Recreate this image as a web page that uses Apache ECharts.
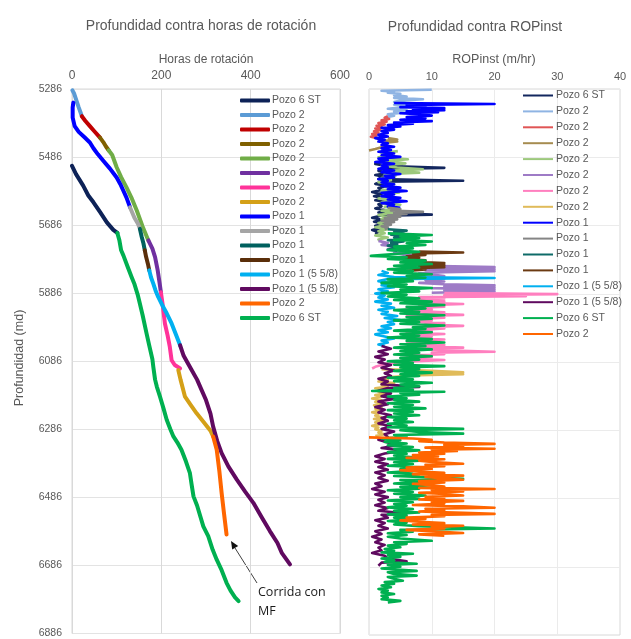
<!DOCTYPE html>
<html><head><meta charset="utf-8">
<script src="https://cdn.jsdelivr.net/npm/echarts@6/dist/echarts.min.js"></script>
<style>html,body{margin:0;padding:0;background:#fff}#c{width:631px;height:639px}</style>
</head><body><div id="c"></div><script>
// ---------- axis ticks ----------
const depthMin = 5286, depthMax = 6886, depthStep = 200;
const hoursTicks = [0, 200, 400, 600];
const ropTicks = [0, 10, 20, 30, 40];

// ---------- left chart: [horas, profundidad] ----------
const hrP6stNavy = [[0,5512],[9,5536],[25,5570],[36.5,5599],[48,5619],[63,5648],[78,5678],[92.5,5700],[101.5,5709]];
const hrP2LightBlue = [[1,5290],[5,5300],[10,5320],[15,5340],[20,5358],[22,5366]];
const hrP2Red = [[22,5366],[30,5380],[40,5395],[50,5410],[62.7,5429]];
const hrP2Olive = [[62.7,5429],[70,5442],[76,5455],[82,5466]];
const hrP2Green = [[82,5466],[90,5480],[100,5516],[110,5545],[122,5575],[133,5605],[145,5643],[158,5690],[171,5731]];
const hrP2Purple = [[171,5731],[180,5755],[186,5780],[192,5820],[196,5855],[199,5883]];
const hrP2Pink = [[199,5883],[203,5920],[208,5975],[214,6010],[219,6044],[223,6083],[230,6097],[242,6107]];
const hrP2Gold = [[238,6112],[243,6140],[253,6190],[266,6215],[279,6239],[295,6265],[310,6290],[316,6307]];
const hrP1Blue = [[3,5326],[1.5,5340],[1.5,5370],[6,5395],[15,5412],[28,5428],[40,5443],[48,5460],[58,5478],[70,5497],[85,5520],[100,5546],[108,5565],[115,5585],[122,5605],[130,5634]];
const hrP1Grey = [[130,5634],[140,5665],[147,5680],[152,5697]];
const hrP1Teal = [[152,5697],[156,5720],[160,5740],[163,5760]];
const hrP1Brown = [[163,5760],[166,5780],[170,5800],[173,5819]];
const hrP1LightBlue = [[173,5819],[177,5840],[182,5858],[187,5878],[193,5897],[204,5926],[212,5945],[223,5975],[232,6005],[242,6039]];
const hrP1DarkPurple = [[242,6039],[250,6070],[265,6105],[280,6140],[290,6170],[300,6200],[310,6240],[316,6278],[325,6320],[335,6356],[350,6395],[369,6434],[388,6470],[406,6502],[425,6545],[443,6585],[460,6620],[470,6650],[480,6668],[488,6683]];
const hrP2Orange = [[316,6307],[324,6346],[330,6410],[335,6473],[340,6530],[346,6595]];
const hrP6stGreen = [[101.5,5709],[106,5730],[110,5760],[115,5775],[125,5810],[133.6,5839],[140,5860],[147,5890],[152,5917],[158,5950],[167,6005],[173,6040],[180,6080],[182,6102],[186,6140],[190,6161],[197,6190],[205,6225],[212,6258],[220,6285],[227,6307],[236,6325],[245,6346],[255,6380],[264,6415],[268,6450],[272,6483],[280,6510],[294,6571],[305,6600],[315,6640],[324,6669],[335,6700],[346,6737],[355,6760],[365,6780],[373,6791]];

// ---------- right chart: [ROPinst, profundidad] ----------
const ropP6stNavy = [[2,5500],[1,5506],[3,5512],[12,5517],[2,5520],[1.5,5526],[3,5532],[1,5538],[2.5,5544],[1.5,5550],[15,5555],[2,5558],[1,5564],[3,5570],[1.5,5576],[2,5582],[0.5,5588],[2,5594],[0.8,5600],[2.5,5606],[1,5612],[3,5618],[1.5,5624],[2,5630],[1,5636],[3,5642],[1.5,5648],[10,5654],[2,5657],[0.5,5663],[2,5669],[0.8,5675],[2.5,5681],[1,5687],[2,5693],[0.5,5699],[1.5,5705],[1,5711]];
const ropP2LightBlue = [[10,5288],[2,5291],[4,5294],[3,5297],[5,5300],[4,5304],[6,5308],[4,5312],[8.6,5316],[5,5320],[4,5324],[6,5328],[4,5332],[7,5336],[5,5340],[3,5344],[6,5348],[4,5352],[5,5356],[3,5360],[4,5364],[3,5368]];
const ropP2Red = [[3,5366],[2.5,5370],[3.2,5374],[2,5378],[2.8,5382],[1.5,5386],[2.5,5390],[1.2,5394],[2,5398],[1,5402],[1.8,5406],[0.8,5410],[1.5,5414],[0.5,5418],[1.2,5422],[0.3,5426],[1,5429]];
const ropP2Olive = [[3,5430],[4.5,5434],[2.5,5437],[4.5,5440],[3,5443],[2.5,5447],[3,5452],[2,5457],[1,5462],[0,5466]];
const ropP2Green = [[4.6,5468],[2,5474],[3.5,5480],[1.5,5486],[6.2,5492],[2.5,5498],[5.8,5504],[2,5510],[4.5,5516],[8.6,5521],[3,5526],[8,5531],[2.5,5536],[4.2,5541],[2,5547],[3.5,5553],[1.5,5559],[4,5565],[2.5,5571],[5,5577],[2,5583],[4.8,5589],[2.5,5595],[3.5,5601],[1.5,5607],[4,5613],[2,5619],[5,5625],[2.5,5631],[4.5,5637],[2,5643],[4,5649],[1.5,5655],[3,5661],[2,5667],[3.5,5673],[1.5,5679],[2.5,5685],[1,5691],[3,5697],[1.5,5703],[2.5,5709],[1,5715],[3,5721],[1.5,5727],[2,5731]];
const ropP2Purple = [[1.5,5731],[3,5737],[2,5743],[5,5749],[3,5755],[6,5761],[4,5767],[7,5773],[5,5779],[8,5785],[6,5791],[9,5797],[7,5803],[20,5808],[10,5811],[20,5814],[9,5817],[20,5820],[12,5823],[8,5826],[10,5830],[12,5834],[8,5838],[12,5842],[9,5846],[12,5850],[8,5854],[12,5858],[20,5861],[12,5864],[20,5867],[10,5870],[20,5873],[12,5876],[20,5879],[10,5883]];
const ropP2Pink = [[12,5884],[30,5887],[12,5890],[25,5893],[8,5896],[12,5900],[6,5904],[12,5908],[7,5912],[15,5916],[8,5920],[12,5924],[6,5928],[10,5932],[7,5936],[12,5940],[8,5944],[15,5948],[6,5952],[12,5956],[8,5960],[10,5964],[6,5968],[12,5972],[9,5976],[15,5980],[7,5984],[12,5988],[8,5992],[10,5996],[6,6000],[12,6004],[7,6008],[10,6012],[6,6016],[12,6020],[8,6024],[10,6028],[6,6032],[12,6036],[8,6040],[15,6044],[7,6048],[12,6052],[20,6056],[10,6059],[12,6063],[6,6067],[10,6071],[5,6075],[12,6080],[6,6085],[3,6090],[2,6095],[1,6100],[0.5,6105]];
const ropP2Gold = [[2,6107],[10,6112],[15,6116],[10,6119],[15,6122],[8,6125],[4,6129],[2,6133],[3,6138],[1.5,6143],[4,6148],[2,6153],[3,6158],[1,6163],[2.5,6168],[1.5,6173],[3,6178],[1,6183],[2,6188],[0.5,6193],[2,6198],[1,6203],[2.5,6208],[0.8,6213],[2,6218],[1,6223],[1.8,6228],[0.5,6233],[1.5,6238],[1,6243],[2,6248],[0.8,6253],[2.5,6258],[1,6263],[2,6268],[0.5,6273],[1.5,6278],[1,6283],[2,6288],[1.5,6293],[2.5,6298],[1,6303]];
const ropP1Blue = [[4,5327],[20,5330],[6,5333],[9,5336],[5,5339],[12,5342],[7,5345],[12,5348],[6,5351],[11,5354],[5,5357],[8,5360],[10,5364],[6,5368],[9,5372],[5,5376],[10,5380],[4,5384],[7,5388],[3,5392],[5,5396],[2,5400],[4,5405],[2,5410],[3,5415],[1.5,5420],[3,5425],[1,5430],[2.5,5435],[1.5,5440],[3,5445],[2,5450],[4,5455],[2,5460],[3.5,5465],[1.5,5470],[4,5475],[2,5480],[5,5485],[1.5,5490],[3,5495],[1,5500],[4,5505],[2,5510],[3,5515],[1.5,5520],[4,5525],[2,5530],[5,5535],[2.5,5540],[4,5545],[1.5,5550],[3,5555],[2,5560],[4,5565],[2,5570],[5,5575],[3,5580],[6,5585],[2,5590],[4,5595],[2,5600],[5,5605],[3,5610],[6,5615],[2,5620],[4,5625],[3,5630],[5,5634]];
const ropP1Grey = [[3,5634],[5,5638],[3.5,5642],[8.6,5646],[4,5649],[6,5652],[3,5656],[5,5660],[2.5,5664],[4.5,5668],[2,5672],[4,5676],[2.5,5680],[3.5,5684],[2,5688],[3,5692],[2.5,5697]];
const ropP1Teal = [[3,5697],[6,5701],[4,5705],[5.5,5709],[3.5,5713],[6,5717],[4,5721],[5,5725],[3,5729],[5.5,5733],[3.5,5737],[4.5,5741],[3,5745],[5,5749],[4,5753],[3,5757],[4.5,5760]];
const ropP1Brown = [[8,5762],[15,5765],[7,5768],[9,5772],[6,5776],[8,5780],[5.5,5784],[9,5788],[6,5792],[12,5796],[7,5799],[12,5802],[8,5805],[12,5808],[7,5811],[9,5815],[6,5819]];
const ropP1LightBlue = [[2,5819],[3,5825],[1.5,5831],[4,5837],[20,5840],[3,5843],[1.5,5849],[3.5,5855],[2,5861],[4,5867],[1.5,5873],[3,5879],[1,5885],[2.5,5891],[1.5,5897],[3,5903],[1,5909],[3.5,5915],[2,5921],[4,5927],[1.5,5933],[3,5939],[2,5945],[4.5,5951],[2.5,5957],[5,5963],[3,5969],[4,5975],[2,5981],[3.5,5987],[1.5,5993],[3,5999],[1,6005],[2.5,6011],[4,6017],[2,6023],[3,6029],[1.5,6035],[2.5,6039]];
const ropP1DarkPurple = [[2,6039],[3.5,6047],[1.5,6055],[3,6063],[1,6071],[2.5,6079],[1.5,6087],[3.5,6095],[2,6103],[4,6111],[2.5,6119],[3.5,6127],[1.5,6135],[3,6143],[2,6151],[8,6159],[3,6162],[1.5,6170],[3.5,6178],[2,6186],[4,6194],[1.5,6202],[3,6210],[1,6218],[2.5,6226],[1.5,6234],[3.5,6242],[2,6250],[3,6258],[1.5,6266],[3.5,6274],[2,6282],[4,6290],[2.5,6298],[3,6306],[1.5,6314],[3,6322],[4.5,6330],[2,6338],[5.5,6346],[2.5,6354],[1,6362],[2.5,6370],[1,6378],[3,6386],[1.5,6394],[3,6402],[1,6410],[2.5,6418],[1.5,6426],[3,6434],[1,6442],[2,6450],[0.5,6458],[2.5,6466],[1,6474],[3,6482],[1.5,6490],[2.5,6498],[1,6506],[3,6514],[1.5,6522],[6,6530],[2,6534],[3,6542],[1,6550],[2.5,6558],[1.5,6566],[3,6574],[1,6582],[2,6590],[0.5,6598],[2,6606],[1,6614],[2.5,6622],[1.5,6630],[2,6638],[0.5,6646],[2.5,6654],[3,6662],[6,6670],[2,6674],[1.5,6683]];
const ropP6stGreen = [[3,5709],[10,5714],[5,5718],[8,5723],[4,5728],[10,5733],[6,5738],[9,5743],[4,5748],[7,5753],[3,5758],[8,5763],[5,5768],[0.3,5775],[6,5779],[3,5784],[9,5789],[5,5794],[10,5799],[4,5804],[8,5809],[3,5814],[7,5819],[4,5824],[10,5829],[6,5834],[9,5839],[3,5844],[7,5849],[2,5854],[6,5859],[3,5864],[10,5869],[5,5874],[8,5879],[2,5884],[6,5889],[3,5894],[8,5899],[4,5904],[10,5909],[5,5914],[12,5919],[6,5924],[9,5929],[4,5934],[8,5939],[5,5944],[12,5949],[6,5954],[10,5959],[4,5964],[8,5969],[5,5974],[12,5979],[7,5984],[9,5989],[4,5994],[10,5999],[5,6004],[8,6009],[3,6014],[10,6019],[6,6024],[12,6029],[5,6034],[9,6039],[4,6044],[10,6049],[5,6054],[8,6059],[4,6064],[10,6069],[5,6074],[8,6079],[3,6084],[7,6089],[4,6094],[12,6098],[5,6102],[8,6107],[4,6112],[10,6117],[5,6122],[8,6127],[3,6132],[7,6137],[4,6142],[10,6147],[5,6152],[8,6157],[4,6162],[7,6167],[0.5,6171],[12,6173],[5,6177],[8,6182],[3,6187],[6,6192],[4,6197],[8,6202],[3,6207],[7,6212],[4,6217],[9,6222],[3,6227],[7,6232],[4,6237],[8,6242],[3,6247],[6,6252],[4,6257],[7,6262],[3,6267],[6,6272],[3,6277],[15,6282],[5,6286],[8,6291],[15,6296],[4,6300],[6,6305],[2,6310],[5,6315],[2.5,6320],[6,6325],[3,6330],[7,6335],[4,6340],[8,6345],[3,6350],[6,6355],[4,6360],[7,6365],[3,6370],[8,6375],[4,6380],[7,6385],[3,6390],[9,6395],[5,6400],[7,6405],[3,6410],[8,6415],[4,6420],[15,6428],[5,6432],[8,6437],[4,6442],[10,6447],[5,6452],[8,6457],[3,6462],[7,6467],[4,6472],[9,6477],[5,6482],[8,6487],[3,6492],[7,6497],[4,6502],[6,6507],[3,6512],[7,6517],[4,6522],[8,6527],[3,6532],[6,6537],[4,6542],[7,6547],[3,6552],[6,6557],[4,6562],[8,6567],[20,6574],[5,6578],[7,6583],[3,6588],[6,6593],[3,6598],[5,6603],[10,6610],[4,6614],[6,6619],[3,6624],[5,6629],[2.5,6634],[4,6639],[2,6644],[7,6648],[3,6652],[5,6657],[2,6662],[4,6667],[2.5,6672],[7.6,6677],[3,6681],[5,6686],[2,6691],[7.6,6698],[3,6702],[4,6707],[7.6,6712],[3,6716],[4,6721],[5.4,6727],[2.5,6731],[4,6736],[2,6741],[3.5,6746],[1.5,6751],[3,6756],[2,6761],[4,6766],[2,6771],[3,6776],[2,6781],[5,6786],[3,6791]];
const ropP2Orange = [[0,6307],[7,6310],[10,6314],[8,6318],[12,6322],[20,6326],[12,6329],[15,6333],[9,6337],[20,6340],[10,6343],[14,6347],[8,6351],[12,6355],[7,6359],[11,6363],[6,6367],[12,6371],[8,6375],[10,6379],[15,6384],[9,6387],[12,6391],[6,6395],[10,6399],[5,6403],[8,6407],[12,6411],[7,6415],[15,6419],[9,6423],[12,6427],[15,6431],[8,6435],[12,6439],[7,6443],[10,6447],[12,6451],[8,6455],[20,6458],[10,6461],[15,6465],[8,6469],[12,6473],[15,6477],[9,6481],[12,6485],[8,6489],[15,6493],[10,6497],[12,6501],[7,6505],[15,6509],[20,6513],[9,6516],[12,6520],[8,6524],[15,6528],[20,6531],[10,6534],[12,6538],[6,6542],[9,6546],[5,6550],[8,6554],[12,6558],[7,6562],[15,6566],[10,6570],[12,6574],[6,6578],[10,6582],[15,6587],[8,6591],[12,6595]];

// ---------- legend labels ----------
const leftLabels = ['Pozo 6 ST','Pozo 2','Pozo 2','Pozo 2','Pozo 2','Pozo 2','Pozo 2','Pozo 2','Pozo 1','Pozo 1','Pozo 1','Pozo 1','Pozo 1 (5 5/8)','Pozo 1 (5 5/8)','Pozo 2','Pozo 6 ST'];
const leftData = [hrP6stNavy,hrP2LightBlue,hrP2Red,hrP2Olive,hrP2Green,hrP2Purple,hrP2Pink,hrP2Gold,hrP1Blue,hrP1Grey,hrP1Teal,hrP1Brown,hrP1LightBlue,hrP1DarkPurple,hrP2Orange,hrP6stGreen];
const rightLabels = ['Pozo 6 ST','Pozo 2','Pozo 2','Pozo 2','Pozo 2','Pozo 2','Pozo 2','Pozo 2','Pozo 1','Pozo 1','Pozo 1','Pozo 1','Pozo 1 (5 5/8)','Pozo 1 (5 5/8)','Pozo 6 ST','Pozo 2'];
const rightData = [ropP6stNavy,ropP2LightBlue,ropP2Red,ropP2Olive,ropP2Green,ropP2Purple,ropP2Pink,ropP2Gold,ropP1Blue,ropP1Grey,ropP1Teal,ropP1Brown,ropP1LightBlue,ropP1DarkPurple,ropP6stGreen,ropP2Orange];

// ---------- styles ----------
const leftColors = ['#0d2257','#5b9bd5','#c00000','#7f6000','#70ad47','#7030a0','#ff3399','#d4a017','#0000ff','#a5a5a5','#00605e','#5a2e0a','#00b0f0','#600a60','#ff6600','#00b050'];
const rightColors = ['#13275e','#8fb4e3','#e05555','#a68c50','#9cc87c','#9e7bc6','#ff7fbf','#e0bb5a','#0000ff','#858585','#0e6b68','#6b3a12','#00b0f0','#5f0a5f','#00b050','#ff6600'];

const FONT = 'Liberation Sans, Arial, sans-serif';
const GREY = '#595959';
const series = [];
const leftNames = [], rightNames = [];
leftData.forEach((d, i) => {
  const name = leftLabels[i] + '|L' + i;
  leftNames.push(name);
  series.push({
    type: 'line', name, data: d, xAxisIndex: 0, yAxisIndex: 0,
    symbol: 'none', showSymbol: false, silent: true, animation: false,
    lineStyle: { width: 4, color: leftColors[i], cap: 'round', join: 'round' },
    itemStyle: { color: leftColors[i] }, emphasis: { disabled: true }
  });
});
rightData.forEach((d, i) => {
  const name = rightLabels[i] + '|R' + i;
  rightNames.push(name);
  series.push({
    type: 'line', name, data: d, xAxisIndex: 1, yAxisIndex: 1,
    symbol: 'none', showSymbol: false, silent: true, animation: false,
    lineStyle: { width: 2.6, color: rightColors[i], join: 'round' },
    itemStyle: { color: rightColors[i] }, emphasis: { disabled: true }
  });
});

const chart = echarts.init(document.getElementById('c'), null, { renderer: 'canvas' });
const yBase = {
  type: 'value', inverse: true, min: depthMin, max: depthMax, interval: depthStep,
  axisLine: { show: false }, axisTick: { show: false }
};
chart.setOption({
  animation: false,
  backgroundColor: '#ffffff',
  grid: [
    { left: 72, top: 89, width: 268, height: 546, show: true, borderColor: '#d9d9d9', borderWidth: 1, backgroundColor: 'transparent' },
    { left: 369, top: 89, width: 251, height: 546, show: true, borderColor: '#d9d9d9', borderWidth: 1, backgroundColor: 'transparent' }
  ],
  xAxis: [
    { gridIndex: 0, type: 'value', position: 'top', min: hoursTicks[0], max: hoursTicks[hoursTicks.length - 1], interval: hoursTicks[1] - hoursTicks[0],
      axisLine: { show: false }, axisTick: { show: false },
      axisLabel: { color: GREY, fontSize: 12, fontFamily: FONT, margin: 7, formatter: v => String(v) },
      splitLine: { show: true, lineStyle: { color: '#d9d9d9', width: 1 } } },
    { gridIndex: 1, type: 'value', position: 'top', min: ropTicks[0], max: ropTicks[ropTicks.length - 1], interval: ropTicks[1] - ropTicks[0],
      axisLine: { show: false }, axisTick: { show: false },
      axisLabel: { color: GREY, fontSize: 11, fontFamily: FONT, margin: 7, formatter: v => String(v) },
      splitLine: { show: true, lineStyle: { color: '#ebebeb', width: 1 } } }
  ],
  yAxis: [
    Object.assign({ gridIndex: 0 }, yBase, {
      axisLabel: { color: GREY, fontSize: 10.5, fontFamily: FONT, margin: 10, formatter: v => String(v) },
      splitLine: { show: true, lineStyle: { color: '#e3e3e3', width: 1 } } }),
    Object.assign({ gridIndex: 1 }, yBase, {
      axisLabel: { show: false },
      splitLine: { show: true, lineStyle: { color: '#ebebeb', width: 1 } } })
  ],
  legend: [
    { data: leftNames, orient: 'vertical', left: 240, top: 94.5, padding: 0,
      itemWidth: 30, itemHeight: 4, itemGap: 2.5, icon: 'roundRect', selectedMode: false,
      formatter: n => n.split('|')[0],
      textStyle: { color: GREY, fontSize: 10.5, fontFamily: FONT, lineHeight: 12, padding: [0, 0, 0, -3] } },
    { data: rightNames, orient: 'vertical', left: 523, top: 89.5, padding: 0,
      itemWidth: 30, itemHeight: 2, itemGap: 3.9, icon: 'rect', selectedMode: false,
      formatter: n => n.split('|')[0],
      textStyle: { color: GREY, fontSize: 10.5, fontFamily: FONT, lineHeight: 12, padding: [0, 0, 0, -2] } }
  ],
  graphic: [
    { type: 'text', x: 201, y: 26, style: { text: 'Profundidad contra horas de rotación', font: '14px ' + FONT, fill: GREY, textAlign: 'center', textVerticalAlign: 'middle', align: 'center', verticalAlign: 'middle' } },
    { type: 'text', x: 475, y: 27, style: { text: 'Profundidad contra ROPinst', font: '14px ' + FONT, fill: GREY, textAlign: 'center', textVerticalAlign: 'middle', align: 'center', verticalAlign: 'middle' } },
    { type: 'text', x: 206, y: 60, style: { text: 'Horas de rotación', font: '12px ' + FONT, fill: GREY, textAlign: 'center', textVerticalAlign: 'middle', align: 'center', verticalAlign: 'middle' } },
    { type: 'text', x: 494, y: 60, style: { text: 'ROPinst (m/hr)', font: '12.5px ' + FONT, fill: GREY, textAlign: 'center', textVerticalAlign: 'middle', align: 'center', verticalAlign: 'middle' } },
    { type: 'text', x: 20, y: 358, rotation: Math.PI / 2, style: { text: 'Profundidad (md)', font: '12.5px ' + FONT, fill: GREY, textAlign: 'center', textVerticalAlign: 'middle', align: 'center', verticalAlign: 'middle' } },
    { type: 'text', x: 258, y: 592, style: { text: 'Corrida con', font: '12.5px Open Sans, sans-serif', fill: '#1a1a1a', textAlign: 'left', textVerticalAlign: 'middle', align: 'left', verticalAlign: 'middle' } },
    { type: 'text', x: 258, y: 611, style: { text: 'MF', font: '12.5px Open Sans, sans-serif', fill: '#1a1a1a', textAlign: 'left', textVerticalAlign: 'middle', align: 'left', verticalAlign: 'middle' } },
    { type: 'line', shape: { x1: 257, y1: 583, x2: 235, y2: 548 }, style: { stroke: '#404040', lineWidth: 1 } },
    { type: 'polygon', shape: { points: [[231, 541], [238.2, 546], [232.2, 549.6]] }, style: { fill: '#111' } }
  ],
  series
});
</script></body></html>
